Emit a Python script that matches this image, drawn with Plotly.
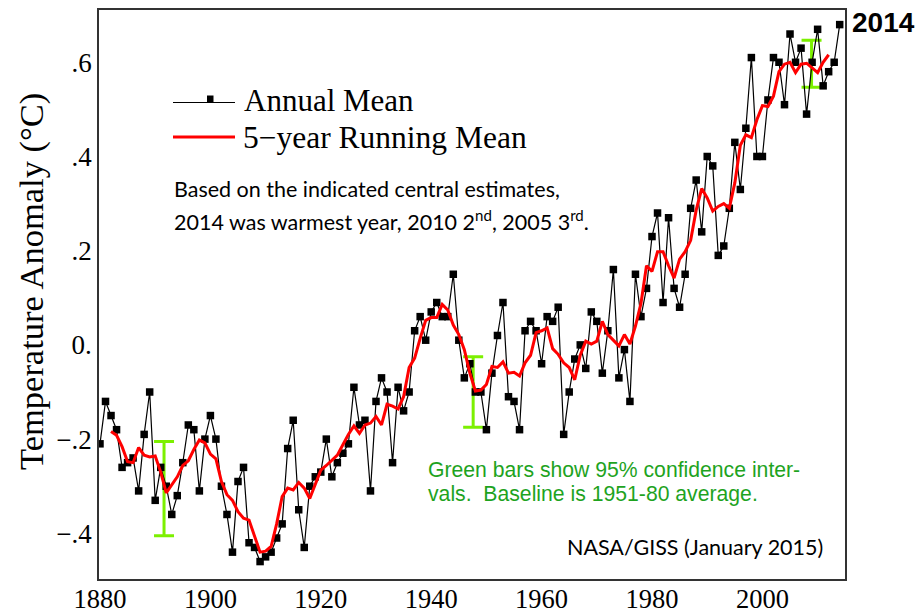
import plotly.graph_objects as go

years = list(range(1880, 2015))
annual_mean = [
    -0.21, -0.12, -0.15, -0.18, -0.26, -0.25, -0.24, -0.31, -0.19, -0.10,
    -0.33, -0.26, -0.30, -0.36, -0.32, -0.25, -0.17, -0.18, -0.31, -0.20,
    -0.15, -0.20, -0.30, -0.36, -0.44, -0.29, -0.26, -0.42, -0.43, -0.46,
    -0.45, -0.44, -0.41, -0.38, -0.22, -0.16, -0.35, -0.43, -0.30, -0.28,
    -0.27, -0.20, -0.28, -0.25, -0.23, -0.21, -0.09, -0.17, -0.16, -0.31,
    -0.12, -0.07, -0.10, -0.25, -0.09, -0.14, -0.10, 0.03, 0.06, 0.01,
    0.07, 0.09, 0.06, 0.06, 0.15, 0.01, -0.07, -0.04, -0.10, -0.10,
    -0.18, -0.06, 0.02, 0.09, -0.11, -0.12, -0.18, 0.03, 0.05, 0.03,
    -0.04, 0.06, 0.05, 0.08, -0.19, -0.10, -0.03, 0.00, -0.05, 0.07,
    0.05, -0.06, 0.03, 0.16, -0.07, -0.01, -0.12, 0.15, 0.06, 0.12,
    0.23, 0.28, 0.09, 0.27, 0.12, 0.08, 0.15, 0.29, 0.35, 0.24,
    0.40, 0.38, 0.19, 0.21, 0.29, 0.43, 0.33, 0.46, 0.61, 0.40,
    0.40, 0.52, 0.61, 0.60, 0.51, 0.66, 0.60, 0.63, 0.49, 0.60,
    0.67, 0.55, 0.58, 0.60, 0.68,
]

running_years = list(range(1882, 2013))
running_mean = [
    -0.184, -0.192, -0.216, -0.248, -0.250, -0.218, -0.234, -0.238, -0.236, -0.270,
    -0.314, -0.298, -0.280, -0.256, -0.246, -0.222, -0.202, -0.208, -0.232, -0.242,
    -0.290, -0.318, -0.330, -0.354, -0.368, -0.372, -0.404, -0.440, -0.438, -0.428,
    -0.380, -0.322, -0.304, -0.308, -0.292, -0.304, -0.326, -0.296, -0.266, -0.256,
    -0.246, -0.234, -0.212, -0.190, -0.172, -0.188, -0.170, -0.166, -0.152, -0.170,
    -0.126, -0.130, -0.136, -0.110, -0.048, -0.028, 0.014, 0.052, 0.058, 0.058,
    0.086, 0.074, 0.042, 0.022, -0.010, -0.060, -0.098, -0.096, -0.084, -0.046,
    -0.048, -0.036, -0.060, -0.058, -0.066, -0.038, -0.022, 0.026, 0.030, 0.036,
    -0.008, -0.020, -0.038, -0.048, -0.074, -0.022, 0.008, 0.002, 0.008, 0.050,
    0.022, 0.010, -0.002, 0.022, 0.002, 0.040, 0.088, 0.168, 0.156, 0.198,
    0.198, 0.168, 0.142, 0.182, 0.198, 0.222, 0.286, 0.332, 0.312, 0.284,
    0.294, 0.300, 0.290, 0.344, 0.424, 0.446, 0.440, 0.478, 0.508, 0.506,
    0.528, 0.580, 0.596, 0.600, 0.578, 0.596, 0.598, 0.588, 0.578, 0.600,
    0.616,
]

ci_years = [1891.6, 1947.6, 2008.9]
ci_center = [-0.305, -0.100, 0.597]
ci_half = [0.100, 0.075, 0.050]

x_tick_vals = [1880, 1900, 1920, 1940, 1960, 1980, 2000]
x_tick_text = ["1880", "1900", "1920", "1940", "1960", "1980", "2000"]
y_tick_vals = [-0.4, -0.2, 0.0, 0.2, 0.4, 0.6]
y_tick_text = ["\u2212.4", "\u2212.2", "0.", ".2", ".4", ".6"]

SERIF = "Liberation Serif, Times New Roman, serif"
SANS = "Lato, Carlito, Noto Sans, sans-serif"
ARIAL = "Liberation Sans, Arial, sans-serif"

fig = go.Figure()

fig.add_trace(go.Scatter(
    x=ci_years, y=ci_center, mode="markers",
    marker=dict(size=1, color="rgba(0,0,0,0)"),
    error_y=dict(type="data", array=ci_half, visible=True,
                 color="#7CF000", thickness=3, width=10),
    showlegend=False, hoverinfo="skip",
))

fig.add_trace(go.Scatter(
    x=years, y=annual_mean, mode="lines+markers", name="Annual Mean",
    line=dict(color="black", width=1.2),
    marker=dict(symbol="square", size=7.5, color="black"),
    showlegend=False,
))

fig.add_trace(go.Scatter(
    x=running_years, y=running_mean, mode="lines", name="5\u2212year Running Mean",
    line=dict(color="#ff0000", width=3),
    showlegend=False,
))

# The page body has an 8px default margin, so the figure is drawn 8px in.
OFF = 8
VIEW_W, VIEW_H = 924, 614
W, H = VIEW_W - OFF, VIEW_H - OFF
# plot-area edges in viewport pixels
L, R, T, B = 99, 845, 10, 579


def px(x):
    return (x - L) / (R - L)


def py(y):
    return (B - y) / (B - T)


shapes = [
    dict(type="line", xref="paper", yref="paper", x0=px(173), x1=px(235),
         y0=py(102.5), y1=py(102.5), line=dict(color="black", width=1.2)),
    dict(type="rect", xref="paper", yref="paper", x0=px(207), x1=px(213.5),
         y0=py(102.5), y1=py(95.5), line=dict(width=0), fillcolor="black"),
    dict(type="line", xref="paper", yref="paper", x0=px(173), x1=px(235),
         y0=py(137), y1=py(137), line=dict(color="#ff0000", width=3)),
]

annotations = [
    dict(text="Temperature Anomaly (\u00b0C)", x=px(31), y=py(282), textangle=-90,
         xanchor="center", yanchor="middle",
         font=dict(family=SERIF, size=34.5, color="black")),
    dict(text="Annual Mean", x=px(242), y=py(101), xanchor="left", yanchor="middle",
         font=dict(family=SERIF, size=31, color="black")),
    dict(text="5\u2212year Running Mean", x=px(241), y=py(137), xanchor="left", yanchor="middle",
         font=dict(family=SERIF, size=31.5, color="black")),
    dict(text="Based on the indicated central estimates,", x=px(172), y=py(189),
         xanchor="left", yanchor="middle", font=dict(family=SANS, size=21.5, color="black")),
    dict(text="2014 was warmest year, 2010 2<sup>nd</sup>, 2005 3<sup>rd</sup>.", x=px(172), y=py(220),
         xanchor="left", yanchor="middle", font=dict(family=SANS, size=21.5, color="black")),
    dict(text="Green bars show 95% confidence inter-", x=px(426), y=py(469),
         xanchor="left", yanchor="middle", font=dict(family=ARIAL, size=21.2, color="#1ea31e")),
    dict(text="vals.  Baseline is 1951-80 average.", x=px(426), y=py(494),
         xanchor="left", yanchor="middle", font=dict(family=ARIAL, size=21.2, color="#1ea31e")),
    dict(text="NASA/GISS (January 2015)", x=px(825), y=py(547),
         xanchor="right", yanchor="middle", font=dict(family=SANS, size=21.5, color="black")),
    dict(text="<b>2014</b>", x=px(850), y=py(23),
         xanchor="left", yanchor="middle", font=dict(family=ARIAL, size=28, color="black")),
]
for a in annotations:
    a.update(xref="paper", yref="paper", showarrow=False)

fig.update_layout(
    width=W, height=H,
    margin=dict(l=L - OFF, r=W - (R - OFF), t=T - OFF, b=H - (B - OFF), pad=0, autoexpand=False),
    paper_bgcolor="white", plot_bgcolor="white",
    shapes=shapes, annotations=annotations,
    xaxis=dict(range=[1879.82, 2014.96], tickvals=x_tick_vals, ticktext=x_tick_text,
               showgrid=False, zeroline=False, ticks="", automargin=False,
               ticklabelstandoff=-5,
               showline=True, mirror=True, linecolor="#333333", linewidth=1.5,
               tickfont=dict(family=SERIF, size=26.5, color="black")),
    yaxis=dict(range=[-0.497, 0.711], tickvals=y_tick_vals, ticktext=y_tick_text,
               showgrid=False, zeroline=False, ticks="", automargin=False,
               showline=True, mirror=True, linecolor="#333333", linewidth=1.5,
               tickfont=dict(family=SERIF, size=27, color="black")),
)

fig.write_html("out.html")
